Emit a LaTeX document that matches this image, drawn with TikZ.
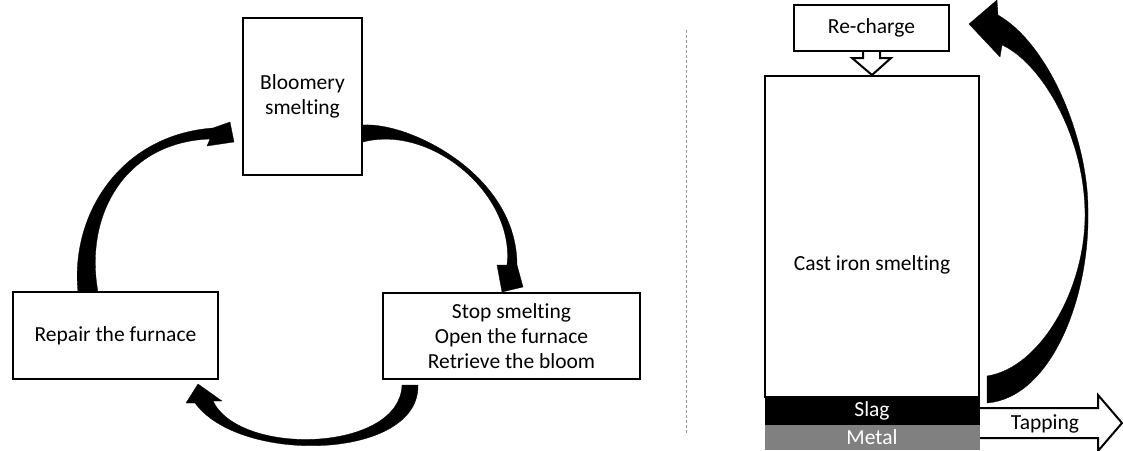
\documentclass[tikz,border=0pt]{standalone}
\usepackage{fontspec}
\setmainfont{Carlito}[Ligatures=NoCommon]
\definecolor{metalgray}{RGB}{128,128,128}
\definecolor{dashgray}{RGB}{150,150,150}
\begin{document}
\begin{tikzpicture}[x=1pt,y=-1pt,
  every node/.style={font=\fontsize{21.5}{25}\selectfont, inner sep=0pt},
  box/.style={draw, line width=2.5pt, align=center},
  rbox/.style={draw, line width=2pt, align=center},
  carrow/.style={fill=black, draw=black, line width=0.3pt, line join=round},
  hollow/.style={draw, fill=white, line width=2pt, line join=miter}]
\useasboundingbox (0,0) rectangle (1123,450);

% ---------- left cycle ----------
\node[box, minimum width=119pt, minimum height=157pt] (bloom) at (302.5,96.5) {Bloomery\\smelting};
\node[box, minimum width=205pt, minimum height=87pt] (repair) at (115.5,335.5) {Repair the furnace};
\node[box, minimum width=257pt, minimum height=86pt] (stop) at (511.5,336) {Stop smelting\\Open the furnace\\Retrieve the bloom};

% repair -> bloomery
\path[carrow] (78,292) .. controls (70,215) and (120,135) .. (213,128)
  -- (230,122) -- (234,142) -- (207,146) -- (210,139)
  .. controls (125,142) and (84,215) .. (98,292) -- cycle;
% bloomery -> stop
\path[carrow] (363,125) .. controls (410,122) and (517,175) .. (517,265)
  -- (523,287) -- (502,292) -- (497,265) -- (507,265)
  .. controls (515,195) and (432,124) .. (363,142) -- cycle;
% stop -> repair
\path[carrow] (418,385) .. controls (420,460) and (240,465) .. (195,403)
  -- (186,403) -- (198,384) -- (222,401) -- (213,401)
  .. controls (240,457) and (400,452) .. (402,385) -- cycle;

% ---------- separator ----------
\draw[dashgray, line width=1pt, dash pattern=on 3pt off 2pt] (686,30) -- (686,433);

% ---------- right furnace ----------
\node[rbox, minimum width=155pt, minimum height=46pt] (recharge) at (871.5,28) {Re-charge};
\draw[hollow] (863,52) -- (863,58) -- (852,58) -- (872,75) -- (891,58) -- (880,58) -- (880,52);

\node[rbox, minimum width=214pt, minimum height=321pt] (cast) at (872,236.5) {};
\node (casttext) at (872,265) {Cast iron smelting};
\node[fill=black, text=white, minimum width=215pt, minimum height=28pt] (slag) at (872,411) {Slag};
\node[fill=metalgray, text=white, minimum width=215pt, minimum height=25pt] (metal) at (872,437.5) {Metal};

\draw[hollow] (980,408) -- (1098,408) -- (1098,395) -- (1122,423) -- (1098,451) -- (1098,438) -- (980,438);
\node (tap) at (1045,424) {Tapping};

% return arrow
\path[carrow] (987,403) .. controls (1050,398) and (1090,300) .. (1088,210)
  .. controls (1088,140) and (1050,45) .. (998,15)
  -- (997,0) -- (969,24) -- (1000,57) -- (1002,45)
  .. controls (1040,62) and (1085,135) .. (1085,215)
  .. controls (1085,290) and (1040,368) .. (987,376) -- cycle;
\end{tikzpicture}
\end{document}
